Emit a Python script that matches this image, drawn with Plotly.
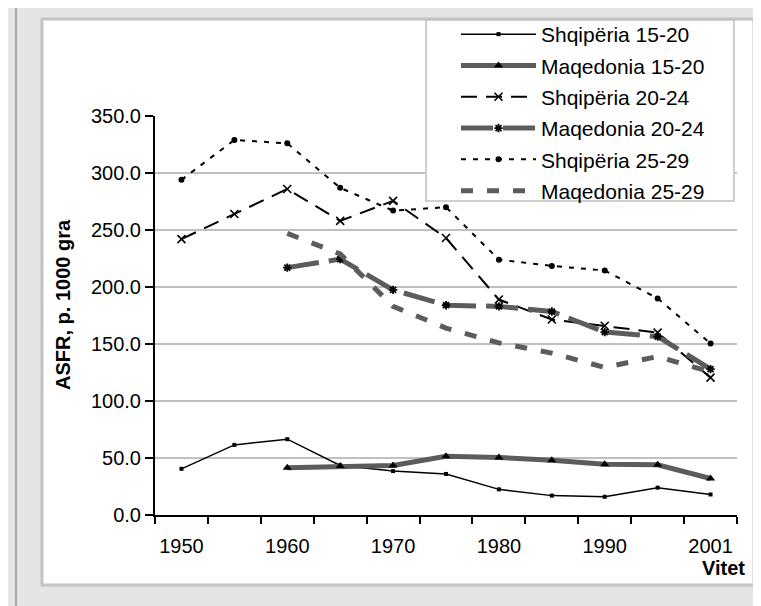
import plotly.graph_objects as go

years = ["1950", "1955", "1960", "1965", "1970", "1975", "1980", "1985", "1990", "1995", "2001"]
shq_15_20 = [40.5, 61.5, 66.5, 43.5, 38.5, 36.0, 22.5, 17.0, 16.0, 24.0, 18.0]
maq_15_20 = [None, None, 41.5, 43.0, 43.5, 51.5, 50.5, 48.0, 44.5, 44.0, 32.0]
shq_20_24 = [242.0, 264.0, 286.0, 258.0, 275.5, 243.0, 189.0, 171.5, 166.0, 160.0, 120.5]
maq_20_24 = [None, None, 217.0, 224.5, 197.5, 184.0, 183.0, 178.5, 160.5, 156.5, 128.0]
shq_25_29 = [294.0, 329.0, 326.0, 287.0, 267.0, 270.0, 224.0, 218.5, 214.5, 190.0, 150.5]
maq_25_29 = [None, None, 247.0, 229.0, 183.0, 164.0, 151.0, 142.0, 129.5, 139.0, 125.5]
y_ticks = [0, 50, 100, 150, 200, 250, 300, 350]

W, H = 761, 606
L, R, T, B = 147, 32, 108, 99
PW, PH = W - L - R, H - T - B


def px(x):
    return (x - L) / PW


def py(y):
    return (H - B - y) / PH


xi = list(range(len(years)))
GRAY = "#5c5c5c"
FONT = "Liberation Sans, Arial, sans-serif"

fig = go.Figure()
series = [
    ("Shqipëria 15-20", shq_15_20, dict(color="black", width=1.5), dict(symbol="square", size=4, color="black")),
    ("Maqedonia 15-20", maq_15_20, dict(color=GRAY, width=5), dict(symbol="triangle-up", size=8, color="black")),
    ("Shqipëria 20-24", shq_20_24, dict(color="black", width=2, dash="16px,9px"),
     dict(symbol="x-thin", size=8, color="black", line=dict(color="black", width=1.6))),
    ("Maqedonia 20-24", maq_20_24, dict(color=GRAY, width=5, dash="32px,10px"),
     dict(symbol="asterisk", size=7, color="black", line=dict(color="black", width=1.8))),
    ("Shqipëria 25-29", shq_25_29, dict(color="black", width=2, dash="5px,7px"), dict(symbol="circle", size=6, color="black")),
    ("Maqedonia 25-29", maq_25_29, dict(color=GRAY, width=5, dash="12px,14px"), None),
]
for k, (name, vals, line, marker) in enumerate(series):
    kw = dict(mode="lines+markers", marker=marker) if marker else dict(mode="lines")
    fig.add_trace(go.Scatter(x=xi, y=vals, name=name, line=line, connectgaps=False,
                             legendgroup="g%d" % k, **kw))

shapes = [
    dict(type="line", xref="paper", yref="paper", x0=px(8), x1=px(8), y0=py(0), y1=py(H),
         line=dict(color="#a8a8a8", width=2), layer="below"),
    dict(type="rect", xref="paper", yref="paper", x0=px(34), x1=px(746), y0=py(577), y1=py(11),
         fillcolor="white", line=dict(color="#c4c4c4", width=3), layer="below"),
    dict(type="rect", xref="paper", yref="paper", x0=px(418), x1=px(726), y0=py(193), y1=py(12),
         fillcolor="white", line=dict(color="#c0c0c0", width=1.5), layer="above"),
]

annotations = [
    dict(text="<b>ASFR, p. 1000 gra</b>", xref="paper", yref="paper", x=px(55), y=py(297),
         textangle=-90, showarrow=False, xanchor="center", yanchor="middle",
         font=dict(size=20, color="black", family=FONT)),
    dict(text="<b>Vitet</b>", xref="paper", yref="paper", x=px(739), y=py(560),
         showarrow=False, xanchor="right", yanchor="middle",
         font=dict(size=20, color="black", family=FONT)),
]

fig.update_layout(
    width=W, height=H,
    margin=dict(l=L, r=R, t=T, b=B, autoexpand=False),
    paper_bgcolor="#e4e4e4",
    plot_bgcolor="white",
    font=dict(family=FONT, size=20, color="black"),
    shapes=shapes,
    annotations=annotations,
    legend=dict(
        x=px(448), y=py(6), xanchor="left", yanchor="top",
        bgcolor="rgba(0,0,0,0)", borderwidth=0,
        font=dict(size=21, family=FONT, color="black"),
        itemwidth=75, traceorder="grouped", tracegroupgap=1,
    ),
    xaxis=dict(
        range=[-0.5, len(years) - 0.5],
        tickmode="array", tickvals=xi[::2], ticktext=years[::2],
        ticks="", showgrid=False, zeroline=False,
        showline=True, linecolor="black", linewidth=2,
        ticklabelstandoff=12,
        minor=dict(tickmode="array", tickvals=[i - 0.5 for i in range(len(years) + 1)],
                   ticks="outside", ticklen=7, tickwidth=1.5, tickcolor="black", showgrid=False),
    ),
    yaxis=dict(
        range=[0, 350], tickmode="array", tickvals=y_ticks, tickformat=".1f",
        ticks="outside", ticklen=8, tickwidth=1.5, tickcolor="black",
        showline=True, linecolor="black", linewidth=2,
        showgrid=True, gridcolor="#c0c0c0", gridwidth=1.5, zeroline=False,
    ),
)

fig.write_html("out.html")
